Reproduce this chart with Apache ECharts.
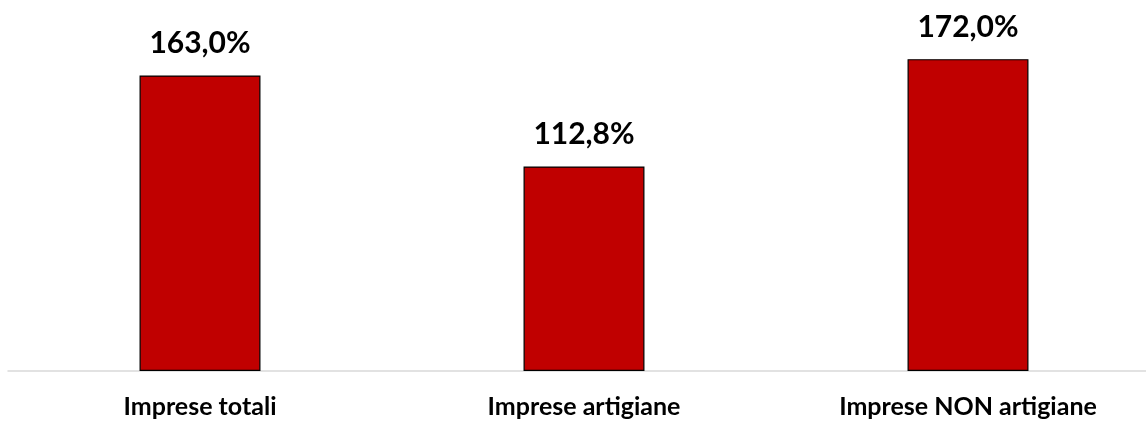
<!DOCTYPE html>
<html><head><meta charset="utf-8">
<script src="https://cdn.jsdelivr.net/npm/echarts@6/dist/echarts.min.js"></script>
<style>html,body{margin:0;padding:0;background:#fff}#c{width:1146px;height:421px}</style>
</head><body><div id="c"></div>
<script>
const categories = ["Imprese totali", "Imprese artigiane", "Imprese NON artigiane"];
const values = [163.0, 112.8, 172.0];

const chart = echarts.init(document.getElementById('c'));
chart.setOption({
  animation: false,
  grid: { left: 8, right: -14, top: 8.4, bottom: 50, containLabel: false, outerBoundsMode: 'none' },
  xAxis: {
    type: 'category', data: categories,
    axisLine: { lineStyle: { color: '#d9d9d9', width: 1.5 } },
    axisTick: { show: false },
    axisLabel: { color: '#000', fontFamily: 'Lato', fontWeight: 'bold', fontSize: 25, margin: 23 }
  },
  yAxis: { type: 'value', min: 0, max: 200, show: false, splitLine: { show: false } },
  series: [{
    type: 'bar', data: values, barWidth: '31.5%',
    itemStyle: { color: '#C00000', borderColor: '#000', borderWidth: 1.2 },
    label: {
      show: true, position: 'top', distance: 17, color: '#000',
      fontFamily: 'Lato', fontWeight: 'bold', fontSize: 30,
      formatter: p => p.value.toFixed(1).replace('.', ',') + '%'
    }
  }]
});
</script></body></html>
